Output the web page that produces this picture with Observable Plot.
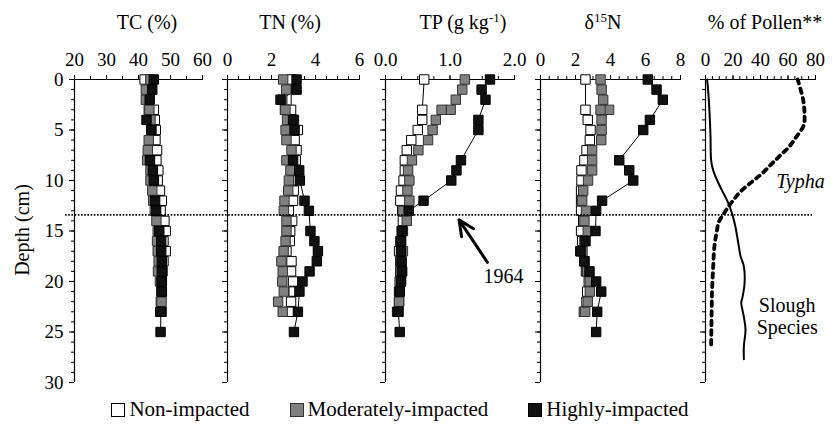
<!DOCTYPE html>
<html><head><meta charset="utf-8">
<script src="https://cdn.jsdelivr.net/npm/d3@7"></script>
<script src="https://cdn.jsdelivr.net/npm/@observablehq/plot@0.6"></script>
<style>
body{margin:0;background:#fff;}
#c{position:relative;width:833px;height:427px;font-family:"Liberation Serif","Times New Roman",serif;color:#000;overflow:hidden;}
#c svg{position:absolute;left:0;top:0;background:transparent;font-family:"Liberation Serif","Times New Roman",serif !important;}
#c svg text{font-family:"Liberation Serif","Times New Roman",serif !important;}
.t{position:absolute;font-size:20px;transform:translate(-50%,-50%);white-space:nowrap;}
.t sup{font-size:13px;vertical-align:7px;}
#ylab{position:absolute;left:22px;top:230px;font-size:20px;transform:translate(-50%,-50%) rotate(-90deg);white-space:nowrap;}
#legend{position:absolute;left:0;top:397px;width:800px;display:flex;justify-content:center;gap:40px;font-size:21px;}
#legend span.i{display:flex;align-items:center;}
#legend span.s{display:inline-block;width:12px;height:12px;border:1px solid #000;margin-right:4px;}
</style></head><body><div id="c"></div><script>
// ---- data ----
const seriesNames = ["Non-impacted", "Moderately-impacted", "Highly-impacted"];
const depthNon  = [0,3,4,5,6,7,8,9,10,11,12,13,14,15,16,17,18,19,20,21,22,23];
const depthMod  = [0,1,2,3,3,4,5,6,7,8,9,10,11,12,13,14,15,16,17,18,19,20,21,22,23];
const depthHigh = [0,1,2,4,5,8,9,10,12,13,15,16,17,18,19,20,21,23,25];

const tcNon  = [41.9,44.8,45.1,45.4,45.3,45.8,45.6,46.2,46.0,46.7,47.3,46.9,48.1,48.5,47.8,48.5,47.8,47.5,47.3,47.2,47.0,46.8];
const tcMod  = [43.7,42.3,42.3,43.2,43.4,43.75,44.0,43.2,42.9,42.7,43.75,43.75,44.3,44.6,45.1,45.6,46.0,45.8,46.0,46.3,46.1,46.7,47.1,47.2,47.3];
const tcHigh = [44.8,44.3,43.5,42.5,44.0,43.6,44.5,44.8,45.2,45.5,46.5,47.1,47.1,47.3,47.3,47.2,47.3,47.0,46.9];

const tnNon  = [2.9,2.89,3.02,3.2,3.05,3.14,3.1,3.1,2.98,3.01,2.98,2.79,2.94,2.85,2.83,2.68,2.91,2.89,2.98,3.01,2.89,2.79];
const tnMod  = [2.53,2.67,2.49,2.61,2.63,2.71,2.64,2.68,2.91,2.68,2.86,2.79,2.76,2.59,2.56,2.68,2.68,2.64,2.55,2.45,2.51,2.49,2.56,2.30,2.51];
const tnHigh = [3.14,3.14,2.41,2.98,3.05,2.98,3.26,3.29,3.5,3.70,3.77,3.95,4.11,4.06,3.73,3.41,3.27,3.20,3.02];

const tpNon  = [0.60,0.57,0.57,0.50,0.40,0.33,0.30,0.30,0.28,0.24,0.23,0.26,0.27,0.25,0.24,0.21,0.23,0.23,0.22,0.21,0.21,0.18];
const tpMod  = [1.23,1.19,1.09,1.01,0.87,0.78,0.73,0.66,0.51,0.41,0.35,0.37,0.34,0.37,0.27,0.33,0.27,0.23,0.27,0.24,0.26,0.24,0.22,0.21,0.20];
const tpHigh = [1.62,1.49,1.55,1.44,1.44,1.17,1.10,1.02,0.59,0.36,0.26,0.24,0.24,0.25,0.25,0.24,0.22,0.20,0.22];

const d15Non  = [2.57,2.57,2.70,2.86,2.82,2.63,2.51,2.34,2.34,2.32,2.32,2.32,2.44,2.32,2.38,2.28,2.51,2.6,2.76,2.67,2.63,2.48];
const d15Mod  = [3.43,3.49,3.58,3.92,3.43,3.49,3.49,3.47,2.95,2.95,2.95,2.72,2.44,2.38,2.6,2.51,2.70,2.51,2.4,2.51,2.67,2.82,2.82,2.70,2.55];
const d15High = [6.13,6.63,6.99,6.25,5.87,4.50,5.07,5.30,3.52,3.18,3.14,2.57,2.29,2.5,2.8,3.18,3.47,3.24,3.18];

const typhaDepth  = [0,2,3.4,4.5,5.7,6.7,7.5,8.3,9.3,10.1,11.1,12.3,13.3,14.1,15.2,16.5,18.5,20.8,23.5,26.7];
const typhaPct    = [67,71,72,71.5,66,60.6,54.5,48.5,41.2,34,25.5,18.2,13.3,9.7,8,6.5,5.6,4.8,4.4,4.1];
const sloughDepth = [0,2,5.4,8,9,10,11.2,12,13.3,14.6,16.5,17.5,18.5,20.2,21.7,22.1,23.5,24.8,26.4,27.7];
const sloughPct   = [1.2,2.4,3.6,4.1,5.6,8.5,12.8,15.8,19.4,21.8,24.2,25.5,27.9,28.4,26.7,26,27.9,29.1,27.9,27.9];

const eventDepth = 13.4;           // 1964 horizon
const eventLabel = "1964";
const depthTicks = [0,5,10,15,20,25,30];

// annotation anchors (data units of their panels)
const arrowTP = {x1: 1.58, y1: 18.1, x2: 1.14, y2: 13.9};
const labelTP = {x: 1.83, y: 19.5};
const typhaLabel = {x: 69, y: 10.1, text: "Typha"};
const sloughLabel = {x: 59.4, y: 23.4, text: "Slough\nSpecies"};

// ---- layout ----
const W = 833, H = 395, MT = 79, MB = 13;
const fills = ["#ffffff", "#808080", "#111111"];
const strokes = ["#000", "#333", "#000"];
const serif = "'Liberation Serif','Times New Roman',serif";
const fontStyle = {fontSize: "19px", fontFamily: serif, background: "transparent", overflow: "visible"};

function rows(depths, vals, s) { return depths.map((d, i) => ({depth: d, v: vals[i], s})); }

const panels = [
  {title: "TC (%)", cx: 147, x0: 74, x1: 202, domain: [20, 60], major: [20,30,40,50,60], minorStep: 5, fmt: d => d, yLabels: true,
   data: [rows(depthNon, tcNon, 0), rows(depthMod, tcMod, 1), rows(depthHigh, tcHigh, 2)]},
  {title: "TN (%)", cx: 290, x0: 227, x1: 359, domain: [0, 6], major: [0,2,4,6], minorStep: 0.5, fmt: d => d,
   data: [rows(depthNon, tnNon, 0), rows(depthMod, tnMod, 1), rows(depthHigh, tnHigh, 2)]},
  {title: "TP (g kg<sup>-1</sup>)", cx: 463, x0: 385, x1: 514, domain: [0, 2], major: [0,1,2], minorStep: 0.25, fmt: d3.format(".1f"),
   data: [rows(depthNon, tpNon, 0), rows(depthMod, tpMod, 1), rows(depthHigh, tpHigh, 2)], arrow: true},
  {title: "&delta;<sup>15</sup>N", cx: 603, x0: 540, x1: 680, domain: [0, 8], major: [0,2,4,6,8], minorStep: 0.5, fmt: d => d,
   data: [rows(depthNon, d15Non, 0), rows(depthMod, d15Mod, 1), rows(depthHigh, d15High, 2)]},
  {title: "% of Pollen**", cx: 765, x0: 705, x1: 815, domain: [0, 80], major: [0,20,40,60,80], minorStep: 5, fmt: d => d, pollen: true}
];

const c = document.getElementById("c");

function range(a, b, step) { const out = []; for (let v = a; v <= b + 1e-9; v += step) out.push(+v.toFixed(4)); return out; }

for (const p of panels) {
  const marks = [
    Plot.ruleY([0], {stroke: "#000", strokeWidth: 1}),
    Plot.ruleX([p.domain[0]], {stroke: "#000", strokeWidth: 1.2}),
    Plot.axisX({anchor: "top", label: null, ticks: range(p.domain[0], p.domain[1], p.minorStep), tickSize: 4, tickFormat: () => ""}),
    Plot.axisX({anchor: "top", label: null, ticks: p.major, tickSize: 5, tickPadding: 9, tickFormat: p.fmt, fontFamily: serif, fontSize: 19}),
    Plot.axisY({anchor: "left", label: null, ticks: range(0, 30, 1), tickSize: 3, tickFormat: () => ""}),
    Plot.axisY({anchor: "left", label: null, ticks: depthTicks, tickSize: 5, tickPadding: 6, tickFormat: p.yLabels ? (d => d) : (() => ""), fontFamily: serif, fontSize: 19})
  ];
  if (p.data) {
    for (const d of p.data) marks.push(Plot.line(d, {x: "v", y: "depth", stroke: "#000", strokeWidth: 1}));
    for (const d of p.data) marks.push(Plot.dot(d, {x: "v", y: "depth", symbol: "square", r: 5.3,
      fill: fills[d[0].s], stroke: strokes[d[0].s], strokeWidth: 1}));
  }
  if (p.arrow) {
    marks.push(Plot.arrow([arrowTP], {x1: "x1", y1: "y1", x2: "x2", y2: "y2", stroke: "#000", strokeWidth: 3, headLength: 12, headAngle: 50}));
    marks.push(Plot.text([labelTP], {x: "x", y: "y", text: () => eventLabel, fontSize: 20, fontFamily: serif}));
  }
  if (p.pollen) {
    const ty = typhaDepth.map((d, i) => ({depth: d, v: typhaPct[i]}));
    const sl = sloughDepth.map((d, i) => ({depth: d, v: sloughPct[i]}));
    marks.push(Plot.line(sl, {x: "v", y: "depth", stroke: "#000", strokeWidth: 2, curve: "catmull-rom"}));
    marks.push(Plot.line(ty, {x: "v", y: "depth", stroke: "#000", strokeWidth: 3.8, strokeDasharray: "4.5,5", curve: "catmull-rom"}));
    marks.push(Plot.text([typhaLabel], {x: "x", y: "y", text: "text", fontSize: 20, fontStyle: "italic", fontFamily: serif}));
    marks.push(Plot.text([sloughLabel], {x: "x", y: "y", text: "text", fontSize: 20, lineHeight: 1.1, fontFamily: serif}));
  }
  const svg = Plot.plot({
    width: W, height: H, marginTop: MT, marginBottom: MB, marginLeft: p.x0, marginRight: W - p.x1,
    x: {domain: p.domain, axis: null},
    y: {domain: [0, 30], reverse: true, axis: null},
    style: fontStyle,
    marks
  });
  c.appendChild(svg);
  const t = document.createElement("div");
  t.className = "t"; t.innerHTML = p.title; t.style.left = p.cx + "px"; t.style.top = "22px";
  c.appendChild(t);
}

// dotted 1964 horizon across all panels
c.appendChild(Plot.plot({
  width: W, height: H, marginTop: MT, marginBottom: MB, marginLeft: 65, marginRight: 21,
  x: {domain: [0, 1], axis: null}, y: {domain: [0, 30], reverse: true, axis: null},
  style: fontStyle,
  marks: [Plot.ruleY([eventDepth], {stroke: "#000", strokeWidth: 1.6, strokeDasharray: "1.6,1.6"})]
}));

const yl = document.createElement("div"); yl.id = "ylab"; yl.textContent = "Depth (cm)"; c.appendChild(yl);

const lg = document.createElement("div"); lg.id = "legend";
seriesNames.forEach((n, i) => {
  const it = document.createElement("span"); it.className = "i";
  const sw = document.createElement("span"); sw.className = "s"; sw.style.background = fills[i]; sw.style.borderColor = strokes[i];
  it.appendChild(sw); it.appendChild(document.createTextNode(n)); lg.appendChild(it);
});
c.appendChild(lg);
</script></body></html>
